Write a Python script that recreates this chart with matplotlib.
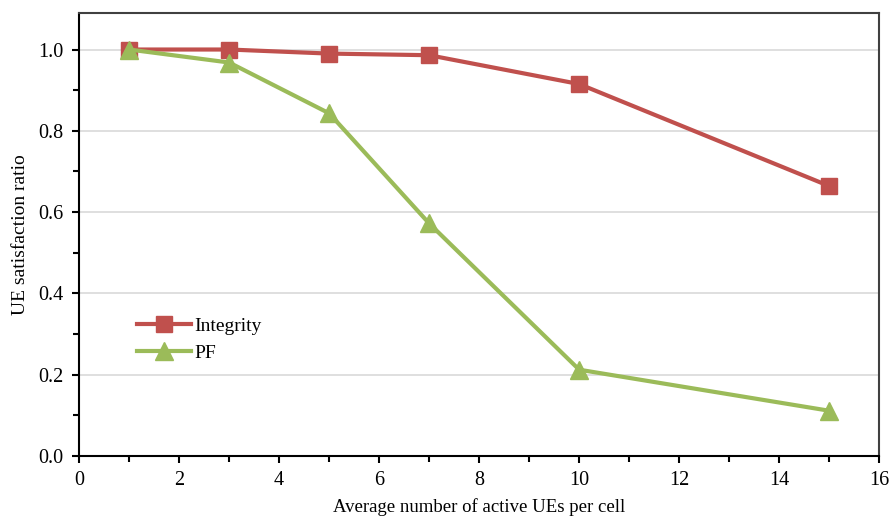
import matplotlib
matplotlib.use("Agg")
import matplotlib.pyplot as plt
from matplotlib.ticker import MultipleLocator

plt.rcParams['font.family'] = ['Liberation Serif', 'DejaVu Serif']

ues = [1, 3, 5, 7, 10, 15]
integrity = [1.0, 1.0, 0.99, 0.986, 0.915, 0.664]
pf = [1.0, 0.968, 0.843, 0.572, 0.212, 0.111]

fig = plt.figure(figsize=(8.89, 5.18), dpi=100)
ax = fig.add_axes([0.089, 0.12, 0.9, 0.855])

ax.plot(ues, integrity, color='#C0504D', lw=3, marker='s', ms=12, label='Integrity')
ax.plot(ues, pf, color='#9BBB59', lw=3, marker='^', ms=13, label='PF')

ax.set_xlim(0, 16)
ax.set_ylim(0, 1.09)
ax.xaxis.set_major_locator(MultipleLocator(2))
ax.xaxis.set_minor_locator(MultipleLocator(1))
ax.yaxis.set_major_locator(MultipleLocator(0.2))
ax.yaxis.set_minor_locator(MultipleLocator(0.1))
ax.yaxis.set_major_formatter(plt.FormatStrFormatter('%.1f'))
ax.grid(True, axis='y', color='#d9d9d9', lw=1.2)
ax.set_axisbelow(True)
ax.tick_params(which='major', direction='out', length=5, width=1.5, labelsize=14.5, pad=6)
ax.tick_params(which='minor', direction='out', length=4, width=1.5)
for s in ax.spines.values():
    s.set_linewidth(1.5)
ax.spines['top'].set_color('#404040')
ax.spines['right'].set_color('#404040')

ax.set_xlabel('Average number of active UEs per cell', fontsize=13.5, labelpad=6)
ax.set_ylabel('UE satisfaction ratio', fontsize=14, labelpad=7)

ax.legend(loc='upper left', bbox_to_anchor=(0.06, 0.335), frameon=False, fontsize=14,
          handlelength=2.8, handletextpad=0.15, labelspacing=0.5, borderpad=0)

fig.savefig('out.png')
